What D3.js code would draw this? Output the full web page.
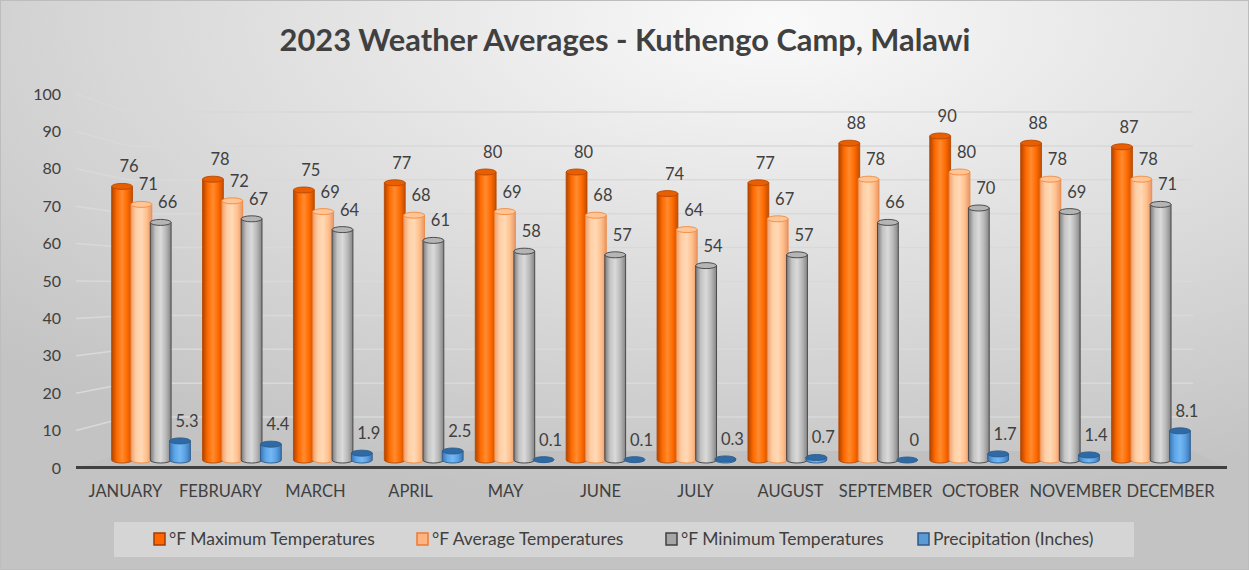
<!DOCTYPE html>
<html>
<head>
<meta charset="utf-8">
<script src="https://cdn.jsdelivr.net/npm/d3@7"></script>
<style>
  html, body { margin: 0; padding: 0; background: #fff; }
  svg { display: block; font-family: Lato, "Open Sans", sans-serif; }
</style>
</head>
<body>
<svg width="1249" height="570"></svg>
<script>
const months = ["JANUARY", "FEBRUARY", "MARCH", "APRIL", "MAY", "JUNE", "JULY",
    "AUGUST", "SEPTEMBER", "OCTOBER", "NOVEMBER", "DECEMBER"];
const seriesNames = ["°F Maximum Temperatures", "°F Average Temperatures",
    "°F Minimum Temperatures", "Precipitation (Inches)"];
const maxTemps = [76, 78, 75, 77, 80, 80, 74, 77, 88, 90, 88, 87];
const avgTemps = [71, 72, 69, 68, 69, 68, 64, 67, 78, 80, 78, 78];
const minTemps = [66, 67, 64, 61, 58, 57, 54, 57, 66, 70, 69, 71];
const precip = [5.3, 4.4, 1.9, 2.5, 0.1, 0.1, 0.3, 0.7, 0, 1.7, 1.4, 8.1];
const yTicks = [0, 10, 20, 30, 40, 50, 60, 70, 80, 90, 100];

const seriesValues = [maxTemps, avgTemps, minTemps, precip];

// look of each series (gradient stops, outline, top cap)
const looks = [
    { stops: ["#b04400", "#ff6a00", "#ff8c30", "#ff6a00", "#c24e00"], stroke: "#b84800", cap: "#e85e00", key: "#ff6600", keyStroke: "#a03c00" },
    { stops: ["#eea070", "#ffcfa4", "#ffd9b6", "#ffc08c", "#e8966a"], stroke: "#f08a40", cap: "#ffc596", key: "#ffb482", keyStroke: "#ef7a30" },
    { stops: ["#7a7a7a", "#c4c4c4", "#dadada", "#b8b8b8", "#858585"], stroke: "#404040", cap: "#b5b5b5", key: "#a6a6a6", keyStroke: "#404040" },
    { stops: ["#3a76b4", "#5ea6e8", "#74b8f4", "#5aa0e2", "#3a74b0"], stroke: "#2b5b8c", cap: "#2f6aa5", key: "#5b9bd5", keyStroke: "#2e5a87" }
];

const svg = d3.select("svg");
const defs = svg.append("defs");

// background
const bg = defs.append("radialGradient").attr("id", "bg")
    .attr("cx", "62%").attr("cy", "4%").attr("r", "85%");
bg.append("stop").attr("offset", "0%").attr("stop-color", "#fafafa");
bg.append("stop").attr("offset", "100%").attr("stop-color", "#c3c3c3");

looks.forEach((l, i) => {
    const g = defs.append("linearGradient").attr("id", "bar" + i)
        .attr("x1", 0).attr("x2", 1).attr("y1", 0).attr("y2", 0);
    l.stops.forEach((c, j) => g.append("stop")
        .attr("offset", j / (l.stops.length - 1)).attr("stop-color", c));
});

svg.append("rect").attr("width", 1249).attr("height", 570).attr("fill", "url(#bg)")
    .attr("stroke", "#bdbdbd").attr("stroke-width", 2);

// scales: bars (depth of columns), back wall, front edge
const yBar = d3.scaleLinear().domain([0, 100]).range([460, 100]);
const yWall = d3.scaleLinear().domain([0, 100]).range([451, 112]);
const yFront = d3.scaleLinear().domain([0, 100]).range([468, 94]);

const x0 = d3.scaleBand().domain(months).range([112.4, 1189.6])
    .paddingInner(0.15).paddingOuter(0);
const x1 = d3.scaleBand().domain(seriesNames).range([0, x0.bandwidth()]);
const xLabel = d3.scalePoint().domain(months).range([125, 1170]);

const wallLeft = 128, wallRight = 1193, frontLeft = 76, frontRight = 1227;

// floor
svg.append("path")
    .attr("d", `M${frontLeft},${yFront(0)} L${frontRight},${yFront(0)} L${wallRight},${yWall(0)} L${wallLeft},${yWall(0)} Z`)
    .attr("fill", "#c0c0c0");

// gridlines on back wall and side wall
const grid = svg.append("g").attr("stroke", "#d9d9d9").attr("stroke-width", 1.5).attr("fill", "none");
grid.selectAll(".back").data(yTicks.slice(1)).enter().append("line")
    .attr("x1", wallLeft).attr("x2", wallRight)
    .attr("y1", d => yWall(d)).attr("y2", d => yWall(d));
grid.selectAll(".side").data(yTicks.slice(1)).enter().append("line")
    .attr("x1", frontLeft).attr("x2", wallLeft)
    .attr("y1", d => yFront(d)).attr("y2", d => yWall(d));

// front edge of floor
svg.append("line")
    .attr("x1", frontLeft).attr("x2", frontRight)
    .attr("y1", yFront(0) - 0.5).attr("y2", yFront(0) - 0.5)
    .attr("stroke", "#404040").attr("stroke-width", 3);

// columns
const ry = 3;
const groups = svg.selectAll(".month").data(months).enter().append("g")
    .attr("transform", d => `translate(${x0(d)},0)`);

groups.each(function (m, mi) {
    const g = d3.select(this);
    seriesNames.forEach((s, si) => {
        const v = seriesValues[si][mi];
        const w = x1.bandwidth() + 1.5;
        const x = x1(s) - 0.75;
        const top = yBar(v), bot = yBar(0);
        const rx = w / 2;
        const l = looks[si];
        if (bot - top > 0.5) {
            g.append("path")
                .attr("d", `M${x},${top} L${x},${bot} A${rx},${ry} 0 0 0 ${x + w},${bot} L${x + w},${top} Z`)
                .attr("fill", `url(#bar${si})`)
                .attr("stroke", l.stroke).attr("stroke-width", 0.9);
        }
        g.append("ellipse")
            .attr("cx", x + rx).attr("cy", top).attr("rx", rx).attr("ry", ry)
            .attr("fill", l.cap).attr("stroke", l.stroke).attr("stroke-width", 0.9);
    });
});

// data labels
groups.each(function (m, mi) {
    const g = d3.select(this);
    seriesNames.forEach((s, si) => {
        const v = seriesValues[si][mi];
        g.append("text")
            .attr("x", x1(s) + x1.bandwidth() / 2 + 7)
            .attr("y", yBar(v) - 14)
            .attr("text-anchor", "middle")
            .attr("font-size", 16.5)
            .attr("fill", "#404040")
            .text(v);
    });
});

// y axis
const yAxis = svg.append("g").attr("transform", "translate(64,0)")
    .call(d3.axisLeft(yFront).tickValues(yTicks).tickSize(0).tickPadding(3));
yAxis.select(".domain").remove();
yAxis.selectAll("text").attr("font-size", 16).attr("fill", "#404040")
    .attr("font-family", "Lato, sans-serif");

// category axis
const xAxis = svg.append("g").attr("transform", "translate(0,485)")
    .call(d3.axisBottom(xLabel).tickSize(0).tickPadding(0));
xAxis.select(".domain").remove();
xAxis.selectAll("text").attr("font-size", 16.5).attr("fill", "#404040")
    .attr("font-family", "Lato, sans-serif");

// title
svg.append("text")
    .attr("x", 625).attr("y", 51)
    .attr("text-anchor", "middle")
    .attr("font-size", 30.8).attr("font-weight", "bold")
    .attr("fill", "#404040")
    .text("2023 Weather Averages - Kuthengo Camp, Malawi");

// legend
const legend = svg.append("g");
legend.append("rect").attr("x", 114).attr("y", 522).attr("width", 1020).attr("height", 35)
    .attr("fill", "#ffffff").attr("fill-opacity", 0.3);
const legendX = [154, 417, 666, 918];
const items = legend.selectAll(".item").data(seriesNames).enter().append("g")
    .attr("transform", (d, i) => `translate(${legendX[i]},533)`);
items.append("rect").attr("width", 11).attr("height", 12)
    .attr("fill", (d, i) => looks[i].key)
    .attr("stroke", (d, i) => looks[i].keyStroke).attr("stroke-width", 1.5);
items.append("text").attr("x", 15).attr("y", 12)
    .attr("font-size", 17.5).attr("fill", "#404040")
    .text(d => d);
</script>
</body>
</html>
